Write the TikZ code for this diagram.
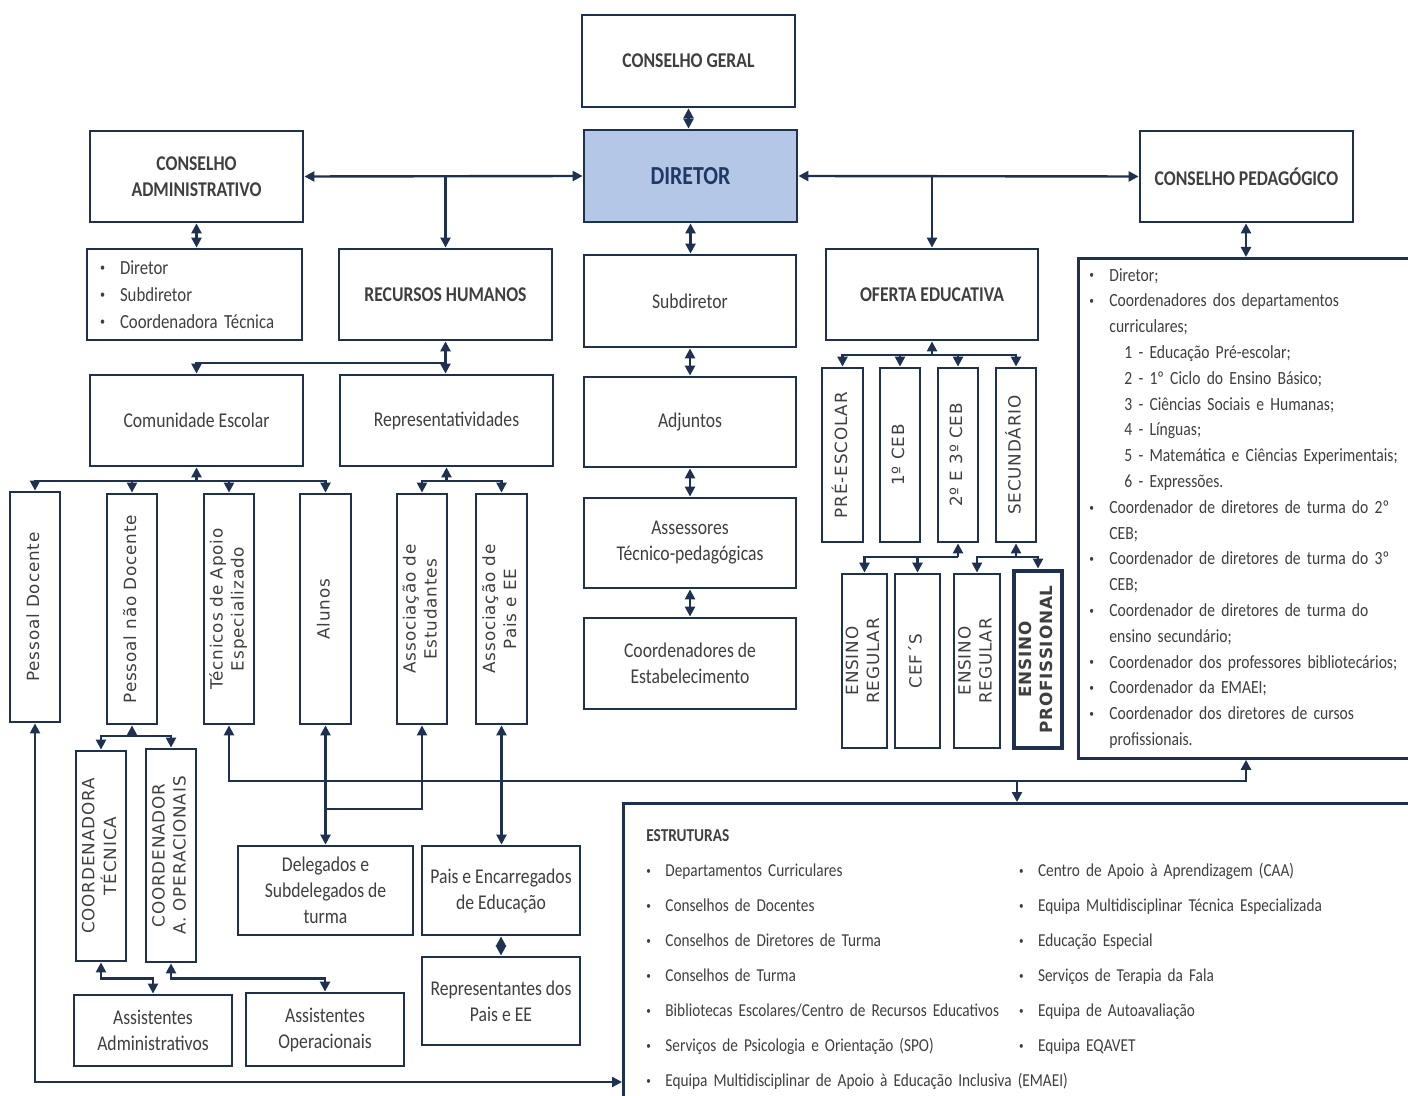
\documentclass[tikz,border=0pt]{standalone}
\usepackage{fontspec}
\setmainfont{Carlito}[FakeStretch=0.84]
\newfontfamily\vfont{DejaVu Sans}[LetterSpace=5]
\usepackage{graphicx}
\usepackage{xcolor}
\usepackage{tikz}
\usetikzlibrary{arrows.meta}
\usetikzlibrary{positioning}

\definecolor{navy}{HTML}{1F3150}
\definecolor{txt}{HTML}{3F3F3F}
\definecolor{dirfill}{HTML}{B4C7E7}
\definecolor{dirtxt}{HTML}{1F3864}
\newcommand{\vtxt}[1]{\rotatebox{90}{\begin{tabular}{@{}c@{}}#1\end{tabular}}}
\newcommand{\bul}[1][9.5pt]{\makebox[#1][l]{\raisebox{0.25ex}{\scalebox{0.6}{\textbullet}}}}

\begin{document}
\begin{tikzpicture}[x=0.5pt,y=-0.5pt,
	box/.style={draw=navy,line width=1.4pt,fill=white,text=txt,align=center,inner sep=2pt,font=\fontsize{10.5}{13}\selectfont},
	title/.style={box,font=\fontsize{10.5}{13}\selectfont\bfseries},
	vbox/.style={draw=navy,line width=1.4pt,fill=white,text=txt,inner sep=0pt,font=\vfont\fontsize{8.4}{10.5}\selectfont},
	sz/.style 2 args={minimum width=#1*0.5pt,minimum height=#2*0.5pt},
	arr/.style={draw=navy,line width=1.2pt,-{Triangle[length=5pt,width=5pt]}},
	dbl/.style={draw=navy,line width=1.2pt,{Triangle[length=5pt,width=5pt]}-{Triangle[length=5pt,width=5pt]}}]

	\useasboundingbox (0,0) rectangle (1408,1096);
	\clip (0,0) rectangle (1408,1096);

	% top row
	\node[title,sz={213}{92}] (cgeral) at (688.5,61) {CONSELHO GERAL};
	\node[title,sz={213}{92},fill=dirfill,text=dirtxt,font=\fontsize{13}{15}\selectfont\bfseries] (diretor) at (690.5,176) {DIRETOR};
	\node[title,sz={213}{91}] (cadmin) at (196.5,176.5) {CONSELHO\\ADMINISTRATIVO};
	\node[title,sz={213}{91}] (cped) at (1246.5,176.5) {CONSELHO PEDAGÓGICO};

	% second row
	\node[box,sz={215}{91},align=left,inner xsep=6.5pt,text width=94.5pt,font=\fontsize{10}{13.5}\selectfont] (admlist) at (194.5,294.5) {\bul[10pt]Diretor\\\bul[10pt]Subdiretor\\\bul[10pt]Coordenadora Técnica};
	\node[title,sz={213}{91}] (rh) at (445.5,294.5) {RECURSOS HUMANOS};
	\node[box,sz={212}{92}] (subdir) at (690,301) {Subdiretor};
	\node[title,sz={212}{91}] (oferta) at (932,294.5) {OFERTA EDUCATIVA};
	\node[box,anchor=north west,minimum height=250pt,align=left,inner xsep=5.5pt,text width=200pt,font=\fontsize{9.3}{12.9}\selectfont] (cplist) at (1077,257) {\bul[10pt]Diretor;\\
		\bul[10pt]Coordenadores dos departamentos\\
		\hspace*{10pt}curriculares;\\
		\hspace*{17.5pt}1 - Educação Pré-escolar;\\
		\hspace*{17.5pt}2 - 1º Ciclo do Ensino Básico;\\
		\hspace*{17.5pt}3 - Ciências Sociais e Humanas;\\
		\hspace*{17.5pt}4 - Línguas;\\
		\hspace*{17.5pt}5 - Matemática e Ciências Experimentais;\\
		\hspace*{17.5pt}6 - Expressões.\\
		\bul[10pt]Coordenador de diretores de turma do 2º\\
		\hspace*{10pt}CEB;\\
		\bul[10pt]Coordenador de diretores de turma do 3º\\
		\hspace*{10pt}CEB;\\
		\bul[10pt]Coordenador de diretores de turma do\\
		\hspace*{10pt}ensino secundário;\\
		\bul[10pt]Coordenador dos professores bibliotecários;\\
		\bul[10pt]Coordenador da EMAEI;\\
		\bul[10pt]Coordenador dos diretores de cursos\\
		\hspace*{10pt}profissionais.};

	% third row
	\node[box,sz={213}{91}] (comun) at (196.5,420.5) {Comunidade Escolar};
	\node[box,sz={213}{91}] (repr) at (446.5,420.5) {Representatividades};
	\node[box,sz={212}{90}] (adj) at (690,422) {Adjuntos};
	\node[box,sz={212}{90}] (assess) at (690,543) {Assessores\\Técnico-pedagógicas};
	\node[box,sz={212}{91}] (coordest) at (690,663.5) {Coordenadores de\\Estabelecimento};

	% oferta educativa
	\node[vbox,sz={41}{174}] (pre) at (842.5,455) {\vtxt{PRÉ-ESCOLAR}};
	\node[vbox,sz={40}{174}] (c1) at (900,455) {\vtxt{1º CEB}};
	\node[vbox,sz={40}{174}] (c23) at (958,455) {\vtxt{2º E 3º CEB}};
	\node[vbox,sz={40}{174}] (sec) at (1016,455) {\vtxt{SECUNDÁRIO}};
	\node[vbox,sz={45}{174}] (er1) at (864.5,661) {\vtxt{ENSINO\\REGULAR}};
	\node[vbox,sz={45}{174}] (cef) at (917.5,661) {\vtxt{CEF´S}};
	\node[vbox,sz={46}{174}] (er2) at (977,661) {\vtxt{ENSINO\\REGULAR}};
	\node[vbox,sz={48}{177},line width=2.4pt,font=\vfont\fontsize{8.4}{10.5}\selectfont\bfseries] (prof) at (1038,659.5) {\vtxt{ENSINO\\PROFISSIONAL}};

	% comunidade and representatividades
	\node[vbox,sz={50}{230}] (pdoc) at (35,607) {\vtxt{Pessoal Docente}};
	\node[vbox,sz={50}{230}] (pndoc) at (132,609) {\vtxt{Pessoal não Docente}};
	\node[vbox,sz={50}{230}] (tec) at (229,609) {\vtxt{Técnicos de Apoio\\Especializado}};
	\node[vbox,sz={51}{230}] (alunos) at (325.5,609) {\vtxt{Alunos}};
	\node[vbox,sz={50}{230}] (aest) at (422,609) {\vtxt{Associação de\\Estudantes}};
	\node[vbox,sz={51}{230}] (apais) at (501.5,609) {\vtxt{Associação de\\Pais e EE}};
	\node[vbox,sz={50}{210}] (ctec) at (101,856) {\vtxt{COORDENADORA\\TÉCNICA}};
	\node[vbox,sz={50}{213}] (cop) at (171,855.5) {\vtxt{COORDENADOR\\A. OPERACIONAIS}};

	% bottom row
	\node[box,sz={175}{89}] (deleg) at (325.5,890.5) {Delegados e\\Subdelegados de\\turma};
	\node[box,sz={158}{89}] (pais) at (501,890.5) {Pais e Encarregados\\de Educação};
	\node[box,sz={158}{88}] (rpais) at (501,1001) {Representantes dos\\Pais e EE};
	\node[box,sz={158}{71}] (aadm) at (153,1030.5) {Assistentes\\Administrativos};
	\node[box,sz={158}{73}] (aop) at (325,1029.5) {Assistentes\\Operacionais};

	% estruturas
	\node[box,anchor=north west,minimum height=154pt,align=left,inner xsep=11.5pt,text width=400pt,font=\fontsize{9.1}{17.5}\selectfont] (estr) at (622,802) {%
		\begin{tabular}{@{}l@{\hspace{10pt}}l@{}}
			\multicolumn{2}{@{}l@{}}{\bfseries ESTRUTURAS}\\
			\bul Departamentos Curriculares & \bul Centro de Apoio à Aprendizagem (CAA)\\
			\bul Conselhos de Docentes & \bul Equipa Multidisciplinar Técnica Especializada\\
			\bul Conselhos de Diretores de Turma & \bul Educação Especial\\
			\bul Conselhos de Turma & \bul Serviços de Terapia da Fala\\
			\bul Bibliotecas Escolares/Centro de Recursos Educativos & \bul Equipa de Autoavaliação\\
			\bul Serviços de Psicologia e Orientação (SPO) & \bul Equipa EQAVET\\
			\multicolumn{2}{@{}l@{}}{\bul Equipa Multidisciplinar de Apoio à Educação Inclusiva (EMAEI)}
		\end{tabular}};

	% junctions
	\coordinate (rhbar) at (446,363);
	\coordinate (ofbar) at (932,355);
	\coordinate (c23bar) at (958,557);
	\coordinate (secbar) at (1016,557);
	\coordinate (cbar) at (196.5,481);
	\coordinate (rbar) at (446.5,481);
	\coordinate (nbar) at (132,736);
	\coordinate (aj) at (325.5,809);
	\coordinate (cpj) at (1246,781);
	\coordinate (ej) at (1017,781);
	\coordinate (pdin) at (622,1082);

	% director links
	\draw[dbl] (cgeral.south) -- (cgeral.south |- diretor.north);
	\draw[dbl] (diretor.west) -- (cadmin.east);
	\draw[arr] (rh.north |- diretor.west) -- (rh.north);
	\draw[dbl] (diretor.east) -- (cped.west);
	\draw[arr] (oferta.north |- diretor.east) -- (oferta.north);
	\draw[dbl] (cadmin.south) -- (cadmin.south |- admlist.north);
	\draw[dbl] (cped.south -| cpj) -- (cpj |- cplist.north);

	% central column
	\draw[dbl] (diretor.south) -- (diretor.south |- subdir.north);
	\draw[dbl] (subdir.south) -- (adj.north);
	\draw[dbl] (adj.south) -- (assess.north);
	\draw[dbl] (assess.south) -- (coordest.north);

	% recursos humanos
	\draw[dbl] (rh.south) -- (rh.south |- repr.north);
	\draw[arr] (rhbar) -| (comun.north);

	% oferta educativa tree
	\draw[arr] (ofbar) -- (oferta.south);
	\foreach \n in {pre,c1,c23,sec}
		\draw[arr] (ofbar) -| (\n.north);
	\draw[arr] (c23bar) -- (c23.south);
	\draw[arr] (c23bar) -| (er1.north);
	\draw[arr] (c23bar) -| (cef.north);
	\draw[arr] (secbar) -- (sec.south);
	\draw[arr] (secbar) -| (er2.north);
	\draw[arr] (secbar) -| (prof.north);

	% comunidade escolar tree
	\draw[arr] (cbar) -- (comun.south);
	\foreach \n in {pdoc,pndoc,tec,alunos}
		\draw[arr] (cbar) -| (\n.north);
	\draw[arr] (rbar) -- (repr.south);
	\draw[arr] (rbar) -| (aest.north);
	\draw[arr] (rbar) -| (apais.north);

	% pessoal nao docente
	\draw[arr] (nbar) -- (pndoc.south);
	\draw[arr] (nbar) -| (ctec.north);
	\draw[arr] (nbar) -| (cop.north);
	\draw[dbl] (ctec.south) -- ++(0,16) -| (aadm.north);
	\draw[dbl] (cop.south) -- ++(0,15) -| (aop.north);

	% representation links
	\draw[dbl] (alunos.south) -- (deleg.north);
	\draw[arr] (aj) -| (aest.south);
	\draw[dbl] (apais.south) -- (apais.south |- pais.north);
	\draw[dbl] (pais.south) -- (rpais.north);

	% long links
	\draw[dbl] (tec.south) |- (cpj) -- (cpj |- cplist.south);
	\draw[arr] (ej) -- (ej |- estr.north);
	\draw[dbl] (pdoc.south) |- (pdin);

\end{tikzpicture}
\end{document}
